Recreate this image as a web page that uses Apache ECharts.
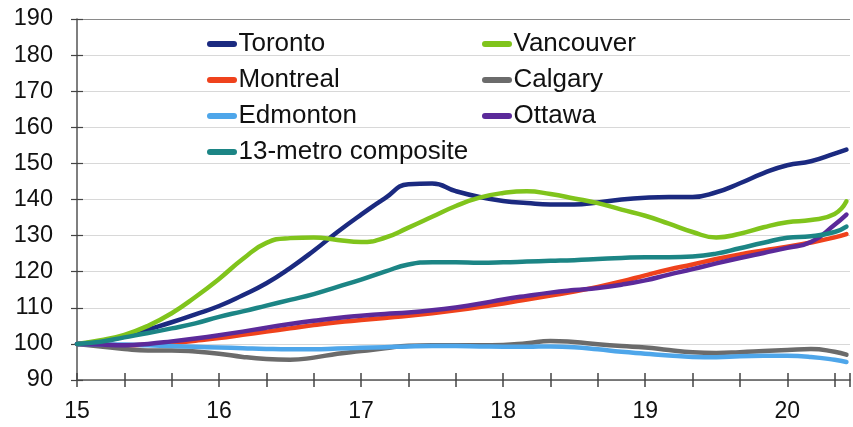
<!DOCTYPE html>
<html>
<head>
<meta charset="utf-8">
<script src="https://cdn.jsdelivr.net/npm/echarts@6/dist/echarts.min.js"></script>
<style>html,body{margin:0;padding:0;background:#fff}#c{width:853px;height:427px}</style>
</head>
<body>
<div id="c"></div>
<script>
// months since Jan 2015
var months = [0,2,4,6,8,10,12,14,16,18,20,22,24,26,28,30,32,34,36,38,40,42,44,46,48,50,52,54,56,58,60,62,64,65];
var yearLabels = ['15','16','17','18','19','20'];
var toronto   = [100,100.7,102,104,106,108.2,110.5,113.5,116.8,121,125.8,131,135.8,140.3,144.2,144.4,142.3,140.7,139.6,139,138.6,138.6,139.2,140,140.5,140.7,140.7,142,144.5,147.3,149.5,150.6,152.7,153.8];
var vancouver = [100,101,102.5,105,108.5,113,118,123.5,128,129.3,129.5,128.8,128.2,129.4,132.2,135.2,138.2,140.5,141.8,142.3,141.5,140.3,139,137.2,135.5,133.3,131,129.5,130.5,132.3,133.7,134.3,136,139.5];
var montreal  = [100,99.8,99.6,99.8,100.3,100.9,101.6,102.5,103.4,104.3,105.2,106,106.6,107.2,107.8,108.5,109.3,110.2,111.2,112.3,113.4,114.5,115.8,117.3,119,120.6,122,123.5,124.8,125.9,126.9,128.1,129.5,130.4];
var calgary   = [100,99.3,98.6,98.2,98.2,97.9,97.3,96.4,95.8,95.6,96.2,97.3,98,98.8,99.5,99.6,99.6,99.6,99.7,100.2,100.8,100.5,99.9,99.4,99,98.3,97.7,97.5,97.7,98,98.3,98.6,97.8,97];
var edmonton  = [100,99.9,99.8,99.6,99.4,99.2,99,98.8,98.6,98.5,98.5,98.7,98.9,99.1,99.3,99.4,99.4,99.3,99.2,99.2,99.3,99.1,98.5,97.8,97.3,96.8,96.4,96.3,96.6,96.7,96.7,96.4,95.6,95];
var ottawa    = [100,99.8,99.6,100,100.7,101.5,102.4,103.4,104.5,105.5,106.4,107.2,107.8,108.3,108.7,109.3,110.1,111.1,112.3,113.3,114.2,114.9,115.5,116.4,117.6,119.2,120.7,122.3,123.8,125.2,126.6,128.2,133,135.8];
var composite = [100,100.6,101.8,103,104.3,105.7,107.5,109,110.6,112.2,113.8,115.8,117.8,120,122,122.6,122.6,122.5,122.6,122.8,123,123.2,123.5,123.8,124,124,124.2,125,126.5,128,129.4,129.8,131,132.5];

var names = ['Toronto','Vancouver','Montreal','Calgary','Edmonton','Ottawa','13-metro composite'];
var colors = ['#1b2a80','#80c41c','#ef421c','#6b6b6b','#4ea6ea','#5b2a9a','#1c8585'];
var values = [toronto,vancouver,montreal,calgary,edmonton,ottawa,composite];

function zip(v){ return months.map(function(m,i){ return [m, v[i]]; }); }

var series = names.map(function(n,i){
  return { name:n, type:'line', data:zip(values[i]), smooth:0.5, showSymbol:false,
    lineStyle:{width:4.5,color:colors[i],cap:'round'}, itemStyle:{color:colors[i]}, z:2+i };
});

var font = 'Liberation Sans, Arial, sans-serif';
var gridColors = ['#d8d8d8','#d8d8d8','#d8d8d8','#d8d8d8','#d8d8d8','#d8d8d8','#d8d8d8','#d8d8d8','#d8d8d8','#d8d8d8','#8a8a8a'];
var legendIcon = 'path://M3,0 L27,0 A3,3 0 0 1 27,6 L3,6 A3,3 0 0 1 3,0 Z';

var chart = echarts.init(document.getElementById('c'), null, {renderer:'canvas'});
chart.setOption({
  animation:false,
  backgroundColor:'#fff',
  grid:{left:77, right:0, top:19, bottom:47, containLabel:false},
  legend:[
    {data:['Toronto','Montreal','Edmonton','13-metro composite'], orient:'vertical', left:207, top:31, itemGap:10,
     itemWidth:31, itemHeight:6, icon:legendIcon, padding:0,
     textStyle:{fontSize:26, color:'#111', fontFamily:font, padding:[0,0,0,-4]}},
    {data:['Vancouver','Calgary','Ottawa'], orient:'vertical', left:482, top:31, itemGap:10,
     itemWidth:31, itemHeight:6, icon:legendIcon, padding:0,
     textStyle:{fontSize:26, color:'#111', fontFamily:font, padding:[0,0,0,-4]}}
  ],
  xAxis:[
    {type:'value', min:0, max:65.3, interval:4,
     axisLine:{show:true, lineStyle:{color:'#555', width:1.5}},
     axisTick:{show:true, length:7, lineStyle:{color:'#444', width:1.5}},
     splitLine:{show:false},
     axisLabel:{margin:20, fontSize:23, color:'#111', fontFamily:font,
       formatter:function(v){ var r=Math.round(v); if(Math.abs(v-r)<1e-6 && r%12===0){ return yearLabels[r/12]||''; } return ''; }}},
    {type:'value', min:0, max:65.3, interval:4, position:'bottom',
     axisLine:{show:false}, axisLabel:{show:false}, splitLine:{show:false},
     axisTick:{show:true, inside:true, length:7, lineStyle:{color:'#444', width:1.5}}}
  ],
  yAxis:[
    {type:'value', min:90, max:190, interval:10,
     axisLine:{show:true, lineStyle:{color:'#555', width:1.5}},
     axisTick:{show:true, length:6, lineStyle:{color:'#444', width:1.2}},
     splitLine:{show:true, lineStyle:{color:gridColors, width:1.2}},
     axisLabel:{margin:24, fontSize:23.5, color:'#111', fontFamily:font}},
    {type:'value', min:90, max:190, interval:10, position:'left',
     axisLine:{show:false}, axisLabel:{show:false}, splitLine:{show:false},
     axisTick:{show:true, inside:true, length:6, lineStyle:{color:'#444', width:1.2}}}
  ],
  series:series
});
</script>
</body>
</html>
